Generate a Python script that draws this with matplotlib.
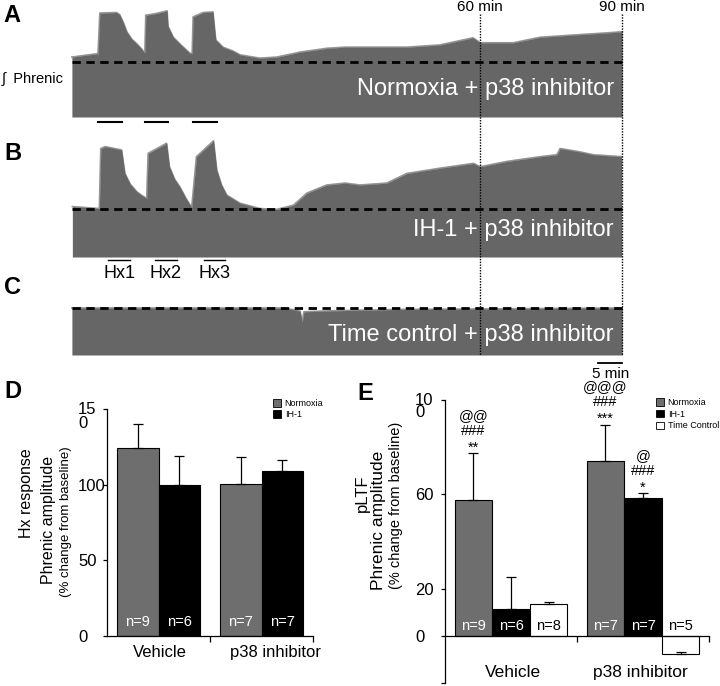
import matplotlib.pyplot as plt
from matplotlib.patches import Patch
from matplotlib.transforms import ScaledTranslation

plt.rcParams['font.family'] = ['Liberation Sans', 'DejaVu Sans']

# =========================
# Data: integrated phrenic envelopes (time in min, amplitude, baseline = 1)
# =========================
a_time = [-26.2, -20.9, -20.7, -20.3, -16.8, -16.1, -15.4, -14.6, -13.6, -12.5,
          -11.5, -11.0, -10.8, -10.6, -8.5, -6.1, -5.9, -4.8, -3.4, -2.3,
          -1.3, -0.8, -0.6, 1.5, 3.6, 4.0, 4.2, 5.7, 7.8, 9.3,
          13.5, 17.1, 22.0, 27.7, 31.5, 44.6, 51.5, 58.5, 60.0, 67.0,
          72.7, 79.6, 86.8, 90.0]
a_amp = [1.09, 1.15, 1.12, 1.89, 1.90, 1.86, 1.73, 1.55, 1.42, 1.33,
         1.24, 1.18, 1.17, 1.85, 1.88, 1.93, 1.65, 1.45, 1.33, 1.24,
         1.16, 1.15, 1.82, 1.90, 1.91, 1.55, 1.40, 1.27, 1.20, 1.13,
         1.07, 1.09, 1.18, 1.25, 1.27, 1.27, 1.31, 1.44, 1.35, 1.35,
         1.45, 1.49, 1.53, 1.55]

b_time = [-26.1, -20.4, -20.1, -19.2, -15.7, -15.0, -13.9, -12.5, -11.4, -10.4,
          -10.1, -6.2, -5.6, -4.5, -3.4, -2.1, -0.9, 0.1, 3.7, 4.4,
          5.4, 6.5, 9.3, 13.5, 17.0, 20.6, 23.4, 27.6, 31.5, 34.6,
          40.3, 44.5, 51.5, 58.6, 60.0, 65.6, 72.7, 76.2, 76.9, 81.1,
          83.9, 89.9]
b_amp = [1.05, 1.01, 2.26, 2.30, 2.23, 1.74, 1.52, 1.36, 1.28, 1.22,
         2.16, 2.37, 1.88, 1.62, 1.46, 1.22, 1.03, 2.09, 2.42, 1.81,
         1.50, 1.29, 1.12, 1.01, 0.99, 1.08, 1.33, 1.50, 1.54, 1.50,
         1.54, 1.74, 1.85, 1.95, 1.88, 1.99, 2.09, 2.13, 2.26, 2.19,
         2.13, 2.09]

c_time = [-26.2, 17.7, 20.9, 22.0, 22.4, 22.8, 28.3, 43.1, 60.0, 90.0]
c_amp = [1.00, 1.00, 0.96, 0.93, 0.70, 0.92, 0.94, 0.97, 0.98, 1.00]

trace_titles = ['Normoxia + p38 inhibitor', 'IH-1 + p38 inhibitor',
                'Time control + p38 inhibitor']

hx_start = [-20.7, -10.8, -0.6]
hx_end = [-15.7, -5.9, 4.4]
hx_labels = ['Hx1', 'Hx2', 'Hx3']

marker_times = [60, 90]
marker_labels = ['60 min', '90 min']
scale_bar_min = 5

# bar charts
groups = ['Vehicle', 'p38 inhibitor']

d_normoxia = [124, 100.5]
d_normoxia_sem = [16, 17.5]
d_ih1 = [100, 109]
d_ih1_sem = [19, 7]
d_n_normoxia = [9, 7]
d_n_ih1 = [6, 7]
d_yticks = [0, 50, 100, 150]
d_yticklabels = ['0', '50', '100', '15\n0']

e_normoxia = [57.6, 74]
e_normoxia_sem = [19.8, 15.6]
e_ih1 = [11.4, 58.6]
e_ih1_sem = [13.6, 1.8]
e_tc = [13.4, -7.9]
e_tc_sem = [1.0, 1.0]
e_n_normoxia = [9, 7]
e_n_ih1 = [6, 7]
e_n_tc = [8, 5]
e_yticks = [-20, 0, 20, 60, 100]
e_yticklabels = ['', '0', '20', '60', '10\n0']
# significance marks, listed bottom to top
e_sig_normoxia = [['**', '###', '@@'], ['***', '###', '@@@']]
e_sig_ih1 = [[], ['*', '###', '@']]

TRACE_GRAY = '#666666'
BAR_GRAY = '#6e6e6e'

# =========================
# Figure
# =========================
W, H = 720, 686
fig = plt.figure(figsize=(W / 100, H / 100), dpi=100)


def px_axes(x0, y0, x1, y1):
    return fig.add_axes([x0 / W, 1 - y1 / H, (x1 - x0) / W, (y1 - y0) / H])


T0, T1 = -26.6, 90.6

# (time, amp, top px, bottom px, baseline unit px, title y)
specs = [
    (a_time, a_amp, 0, 117, 55, 0.51),
    (b_time, b_amp, 130, 257, 48, 0.56),
    (c_time, c_amp, 290, 355, 47, 0.43),
]
trace_axes = []
for (t, amp, top, bot, unit, ty), title in zip(specs, trace_titles):
    ax = px_axes(70, top, 625, bot)
    ax.set_xlim(T0, T1)
    ax.set_ylim(0, (bot - top) / unit)
    ax.axis('off')
    ax.plot(t, amp, color='#959595', lw=1.2, zorder=1)
    ax.fill_between(t, 0, amp, color=TRACE_GRAY, lw=0, zorder=2)
    ax.plot([t[0], t[-1] + 0.6], [1, 1], color='black', lw=2, dashes=(3, 2), zorder=3)
    ax.text(88.2, ty, title, color='white', fontsize=17, ha='right', va='center', zorder=4)
    trace_axes.append(ax)

axA, axB, axC = trace_axes

# hypoxia bars under A
for s, e in zip(hx_start, hx_end):
    axA.plot([s, e], [-5 / 55, -5 / 55], color='black', lw=1.5, clip_on=False)

# Hx labels under B
for s, e, lab in zip(hx_start, hx_end, hx_labels):
    c = (s + e) / 2 + 2.0
    axB.plot([c - 2.3, c + 2.3], [-3 / 48, -3 / 48], color='black', lw=1.0, clip_on=False)
    axB.text(c, -16 / 48, lab, fontsize=13, ha='center', va='center', clip_on=False)

# overlay: time markers and scale bar
ov = px_axes(70, 0, 625, 390)
ov.set_xlim(T0, T1)
ov.set_ylim(390, 0)
ov.axis('off')
ov.patch.set_alpha(0)
for t, lab in zip(marker_times, marker_labels):
    ov.plot([t, t], [14, 355], color='black', lw=1.0, ls=(0, (1, 1)))
    ov.text(t, 7, lab, fontsize=11, ha='center', va='center')
end = marker_times[-1]
ov.plot([end - scale_bar_min, end], [363, 363], color='black', lw=1.3)
ov.text(end - scale_bar_min / 2, 374, f'{scale_bar_min} min', fontsize=11,
        ha='center', va='center')

fig.text(2 / W, 1 - 79 / H, '∫  Phrenic', fontsize=10.5, va='center', ha='left')

# panel letters
for lab, x, y in [('A', 12, 15), ('B', 13, 153), ('C', 13, 288), ('D', 13, 392), ('E', 365, 394)]:
    fig.text(x / W, 1 - y / H, lab, fontsize=17, fontweight='bold', ha='center', va='center')


# =========================
# Bar panels
# =========================
def style_axis(ax):
    for side in ['top', 'right']:
        ax.spines[side].set_visible(False)
    for side in ['left', 'bottom']:
        ax.spines[side].set_linewidth(0.9)
    ax.tick_params(axis='y', direction='out', length=3, width=0.9, labelleft=False)
    ax.tick_params(axis='x', direction='out', length=4, width=0.9, labelbottom=False)
    ax.set_xticks([1, 2])
    ax.set_xlim(0, 2)


def left_labels(ax, ticks, labels, dx_px, size, linespacing):
    for t, lab in zip(ticks, labels):
        if not lab:
            continue
        multi = '\n' in lab
        off = ScaledTranslation(-dx_px / 100, 0.07 if multi else 0, fig.dpi_scale_trans)
        ax.text(0, t, lab, transform=ax.get_yaxis_transform() + off, ha='left',
                va='top' if multi else 'center_baseline', fontsize=size,
                linespacing=linespacing)


def bars(ax, xs, vals, sems, ns, face, ncolor, width, ny):
    ax.bar(xs, vals, width=width, color=face, edgecolor='black', lw=0.8, zorder=2)
    ax.errorbar(xs, vals, yerr=[[0] * len(vals), sems], fmt='none', ecolor='black',
                elinewidth=0.9, capsize=3.5, capthick=0.9, zorder=3)
    for x, n in zip(xs, ns):
        ax.text(x, ny, f'n={n}', color=ncolor, fontsize=10.5, ha='center', va='center', zorder=4)


# ---- D ----
axD = px_axes(107, 409, 313, 636)
axD.set_ylim(0, 150)
style_axis(axD)
axD.set_yticks(d_yticks)
left_labels(axD, d_yticks, d_yticklabels, 29, 12, 0.9)
centers = [0.5, 1.5]
bars(axD, [c - 0.2 for c in centers], d_normoxia, d_normoxia_sem, d_n_normoxia,
     BAR_GRAY, 'white', 0.4, 9)
bars(axD, [c + 0.2 for c in centers], d_ih1, d_ih1_sem, d_n_ih1, 'black', 'white', 0.4, 9)
for x, g in zip([0.515, 1.64], groups):
    axD.text(x, -11.2, g, fontsize=12, ha='center', va='center', clip_on=False)
axD.legend(handles=[Patch(facecolor=BAR_GRAY, edgecolor='black', lw=0.6, label='Normoxia'),
                    Patch(facecolor='black', edgecolor='black', lw=0.6, label='IH-1')],
           loc='upper left', bbox_to_anchor=(273 / W, 1 - 399 / H),
           bbox_transform=fig.transFigure, frameon=False, fontsize=6.5,
           handlelength=0.9, handleheight=0.9, handletextpad=0.4,
           labelspacing=0.25, borderpad=0, borderaxespad=0)

fig.text(27 / W, 1 - 493 / H, 'Hx response', rotation=90, fontsize=11.5, ha='center', va='center')
fig.text(48 / W, 1 - 520 / H, 'Phrenic amplitude', rotation=90, fontsize=11.5, ha='center', va='center')
fig.text(66 / W, 1 - 522 / H, '(% change from baseline)', rotation=90, fontsize=9.5,
         ha='center', va='center')

# ---- E ----
axE = px_axes(445, 400, 709, 683)
axE.set_ylim(-20, 100)
style_axis(axE)
axE.spines['bottom'].set_position(('data', 0))
axE.set_yticks(e_yticks)
left_labels(axE, e_yticks, e_yticklabels, 30, 12, 0.75)
w = 0.285
bars(axE, [c - w for c in centers], e_normoxia, e_normoxia_sem, e_n_normoxia,
     BAR_GRAY, 'white', w, 4)
bars(axE, centers, e_ih1, e_ih1_sem, e_n_ih1, 'black', 'white', w, 4)
bars(axE, [c + w for c in centers], e_tc, e_tc_sem, e_n_tc, 'white', 'black', w, 4)

sig_offsets = [2.5, 9.5, 16.0]
for xs, vals, sems, sigs in [([c - w for c in centers], e_normoxia, e_normoxia_sem, e_sig_normoxia),
                             (centers, e_ih1, e_ih1_sem, e_sig_ih1)]:
    for x, v, s, marks in zip(xs, vals, sems, sigs):
        for mark, off in zip(marks, sig_offsets):
            axE.text(x, v + s + off, mark, fontsize=10.5, ha='center', va='center',
                     clip_on=False)

for x, g in zip([0.515, 1.48], groups):
    axE.text(x, -15.7, g, fontsize=12.5, ha='center', va='center', clip_on=False)
axE.legend(handles=[Patch(facecolor=BAR_GRAY, edgecolor='black', lw=0.6, label='Normoxia'),
                    Patch(facecolor='black', edgecolor='black', lw=0.6, label='IH-1'),
                    Patch(facecolor='white', edgecolor='black', lw=0.6, label='Time Control')],
           loc='upper left', bbox_to_anchor=(656 / W, 1 - 398 / H),
           bbox_transform=fig.transFigure, frameon=False, fontsize=6.5,
           handlelength=0.9, handleheight=0.9, handletextpad=0.4,
           labelspacing=0.3, borderpad=0, borderaxespad=0)

fig.text(362 / W, 1 - 493 / H, 'pLTF', rotation=90, fontsize=12, ha='center', va='center')
fig.text(378 / W, 1 - 520 / H, 'Phrenic amplitude', rotation=90, fontsize=12.5,
         ha='center', va='center')
fig.text(396 / W, 1 - 505 / H, '(% change from baseline)', rotation=90, fontsize=10.5,
         ha='center', va='center')

fig.savefig('out.png', dpi=100)
